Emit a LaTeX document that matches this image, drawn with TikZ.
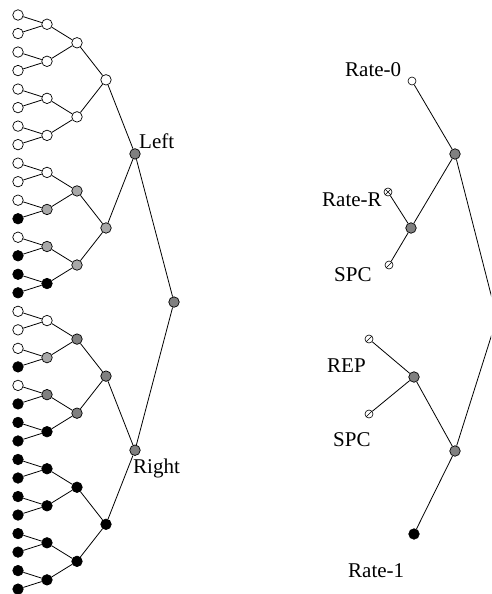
\documentclass[tikz,border=0pt]{standalone}
\usepackage{fontspec}
\setmainfont{Liberation Serif}
\definecolor{lgray}{HTML}{A8A8A8}
\definecolor{dgray}{HTML}{808080}
\begin{document}
\begin{tikzpicture}[x=1pt,y=-1pt,
  nd/.style={circle,draw,line width=0.7pt,inner sep=0pt,minimum size=10.5pt},
  sm/.style={circle,draw,line width=0.6pt,inner sep=0pt,minimum size=8pt,fill=white},
  cW/.style={fill=white}, cB/.style={fill=black},
  cL/.style={fill=lgray}, cD/.style={fill=dgray},
  edge/.style={line width=0.8pt},
  lbl/.style={font=\fontsize{21}{24}\selectfont, inner sep=0pt}]
\useasboundingbox (0,0) rectangle (491,594);
\clip (0,0) rectangle (491,594);
% ---- left tree ----
\foreach \c [count=\j from 0] in {cW,cW,cW,cW,cW,cW,cW,cW,cW,cW,cW,cB,cW,cB,cB,cB,cW,cW,cW,cB,cW,cB,cB,cB,cB,cB,cB,cB,cB,cB,cB,cB}{
  \pgfmathsetmacro\yy{15+18.52*\j}
  \node[nd,\c] (a0-\j) at (18,\yy) {};
}
\foreach \c [count=\j from 0] in {cW,cW,cW,cW,cW,cL,cL,cB,cW,cL,cD,cB,cB,cB,cB,cB}{
  \pgfmathsetmacro\yy{15+18.52*(2*\j+0.5)}
  \node[nd,\c] (a1-\j) at (47,\yy) {};
}
\foreach \c [count=\j from 0] in {cW,cW,cL,cL,cD,cD,cB,cB}{
  \pgfmathsetmacro\yy{15+18.52*(4*\j+1.5)}
  \node[nd,\c] (a2-\j) at (77,\yy) {};
}
\foreach \c [count=\j from 0] in {cW,cL,cD,cB}{
  \pgfmathsetmacro\yy{15+18.52*(8*\j+3.5)}
  \node[nd,\c] (a3-\j) at (106,\yy) {};
}
\foreach \c [count=\j from 0] in {cD,cD}{
  \pgfmathsetmacro\yy{15+18.52*(16*\j+7.5)}
  \node[nd,\c] (a4-\j) at (135,\yy) {};
}
\node[nd,cD] (a5) at (174,{15+18.52*15.5}) {};
% edges
\foreach \j in {0,...,15}{
  \pgfmathtruncatemacro\ja{2*\j}\pgfmathtruncatemacro\jb{2*\j+1}
  \draw[edge] (a0-\ja) -- (a1-\j) -- (a0-\jb);
}
\foreach \j in {0,...,7}{
  \pgfmathtruncatemacro\ja{2*\j}\pgfmathtruncatemacro\jb{2*\j+1}
  \draw[edge] (a1-\ja) -- (a2-\j) -- (a1-\jb);
}
\foreach \j in {0,...,3}{
  \pgfmathtruncatemacro\ja{2*\j}\pgfmathtruncatemacro\jb{2*\j+1}
  \draw[edge] (a2-\ja) -- (a3-\j) -- (a2-\jb);
}
\foreach \j in {0,1}{
  \pgfmathtruncatemacro\ja{2*\j}\pgfmathtruncatemacro\jb{2*\j+1}
  \draw[edge] (a3-\ja) -- (a4-\j) -- (a3-\jb);
}
\draw[edge] (a4-0) -- (a5) -- (a4-1);
\node[lbl,anchor=base west] (tLeft) at (139,148) {Left};
\node[lbl,anchor=base west] (tRight) at (133,473) {Right};
% ---- right tree ----
\node[sm] (r0) at (412,81) {};
\node[nd,cD] (rA) at (455,154) {};
\node[sm] (rR) at (388,192) {};
\draw[line width=0.5pt] (rR.north west) -- (rR.south east) (rR.north east) -- (rR.south west);
\node[nd,cD] (rB) at (411,228) {};
\node[sm] (rS1) at (389,265) {};
\draw[line width=0.5pt] (rS1.south west) -- (rS1.north east);
\node[sm] (rREP) at (369,339) {};
\draw[line width=0.5pt] (rREP.south west) -- (rREP.north east);
\node[nd,cD] (rC) at (414,377) {};
\node[sm] (rS2) at (369,414) {};
\draw[line width=0.5pt] (rS2.south west) -- (rS2.north east);
\node[nd,cD] (rD) at (455,451) {};
\node[nd,cB] (r1) at (414,534) {};
\coordinate (rroot) at (497,318);
\draw[edge] (r0) -- (rA) -- (rroot) -- (rD) -- (r1);
\draw[edge] (rA) -- (rB) -- (rR);
\draw[edge] (rB) -- (rS1);
\draw[edge] (rD) -- (rC) -- (rREP);
\draw[edge] (rC) -- (rS2);
\node[lbl,anchor=base west] (t0) at (345,76) {Rate-0};
\node[lbl,anchor=base west] (tR) at (322,206) {Rate-R};
\node[lbl,anchor=base west] (tS1) at (334,281) {SPC};
\node[lbl,anchor=base west] (tREP) at (327,372) {REP};
\node[lbl,anchor=base west] (tS2) at (333,446) {SPC};
\node[lbl,anchor=base west] (t1) at (348,577) {Rate-1};
\end{tikzpicture}
\end{document}
